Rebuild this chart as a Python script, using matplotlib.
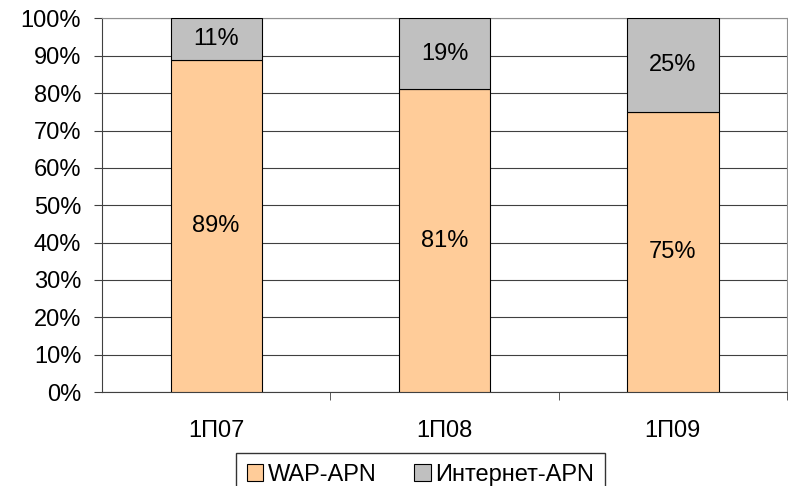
import matplotlib
matplotlib.use("Agg")
import matplotlib.pyplot as plt
import numpy as np

# данные
categories = ["1П07", "1П08", "1П09"]
wap_apn = [89, 81, 75]
internet_apn = [11, 19, 25]
series_names = ["WAP-APN", "Интернет-APN"]

plt.rcParams["font.family"] = ["Liberation Sans", "DejaVu Sans"]
plt.rcParams["font.size"] = 17

fig = plt.figure(figsize=(7.88, 4.86), dpi=100)
ax = fig.add_axes([102 / 788, 1 - 392 / 486, (787 - 102) / 788, (392 - 18.5) / 486])

x = np.arange(len(categories))
w = 0.4
b1 = ax.bar(x, wap_apn, w, color="#FFCC99", edgecolor="black", linewidth=0.8,
            label=series_names[0], zorder=3)
b2 = ax.bar(x, internet_apn, w, bottom=wap_apn, color="#C0C0C0", edgecolor="black",
            linewidth=0.8, label=series_names[1], zorder=3)

for i in range(len(categories)):
    ax.text(x[i], wap_apn[i] / 2, f"{wap_apn[i]}%", ha="center", va="center", zorder=4)
    ax.text(x[i], wap_apn[i] + internet_apn[i] / 2, f"{internet_apn[i]}%",
            ha="center", va="center", zorder=4)

ax.set_xlim(-0.5, 2.5)
ax.set_ylim(0, 100)
ax.set_yticks(range(0, 101, 10))
ax.set_yticklabels([f"{v}%" for v in range(0, 101, 10)])
ax.yaxis.grid(True, color="#404040", linewidth=0.8, zorder=0)

ax.set_xticks(x)
ax.set_xticklabels(categories)
ax.tick_params(axis="x", length=0, pad=20)
ax.set_xticks([0.5, 1.5, 2.5], minor=True)
ax.tick_params(axis="x", which="minor", length=6, direction="out", color="#404040")
ax.tick_params(axis="y", length=6, color="#404040", pad=9)

for s in ["top", "right"]:
    ax.spines[s].set_color("#909090")
for s in ["left", "bottom"]:
    ax.spines[s].set_color("#404040")

leg = fig.legend(handles=[b1, b2], loc="upper center", bbox_to_anchor=(420.5 / 788, 1 - 453 / 486),
                 ncol=2, frameon=True, fancybox=False, handlelength=0.7, handleheight=0.7,
                 handletextpad=0.2, columnspacing=1.6, borderpad=0.45, borderaxespad=0)
leg.get_frame().set_edgecolor("black")
leg.get_frame().set_linewidth(1.0)

fig.savefig("out.png", dpi=100)
